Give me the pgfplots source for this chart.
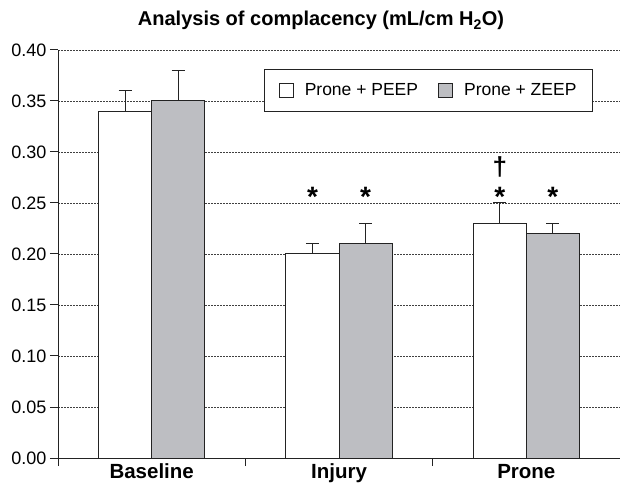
\documentclass[border=0pt]{standalone}
\usepackage{fontspec}
\setmainfont{Liberation Sans}
\usepackage{pgfplots}
\pgfplotsset{compat=1.18}
\usepackage{pgfplotstable}

\definecolor{bargray}{RGB}{189,190,194}
\definecolor{edge}{RGB}{35,35,35}

% mean and upper SD, per group
\pgfplotstableread{
x y e
0 0.34 0.02
1 0.20 0.01
2 0.23 0.02
}\peep
\pgfplotstableread{
x y e
0 0.35 0.03
1 0.21 0.02
2 0.22 0.01
}\zeep
% significance marks
\pgfplotstableread{
x y label
0.8585 0.247 *
1.1415 0.247 *
1.8585 0.247 *
2.1415 0.247 *
}\stars
\pgfplotstableread{
x y label
1.8585 0.277 †
}\dagmark

\begin{document}
\begin{tikzpicture}
\path[use as bounding box] (-58pt,-26pt) rectangle (562pt,458pt);
\begin{axis}[
  at={(0,0)}, anchor=south west,
  scale only axis, width=562pt, height=408pt,
  xmin=-0.5, xmax=2.5, ymin=0, ymax=0.4,
  axis x line=bottom, axis y line=left,
  axis line style={-, draw=edge, line width=1pt},
  clip=false,
  xtick={-0.5,0.5,1.5}, xticklabels={},
  extra x ticks={0,1,2},
  extra x tick labels={Baseline,Injury,Prone},
  extra x tick style={major tick length=0pt,
    tick label style={font=\bfseries\fontsize{20.5}{23}\selectfont,
      text height=15pt, text depth=4pt, yshift=-2pt}},
  ytick={0,0.05,0.1,0.15,0.2,0.25,0.3,0.35,0.4},
  yticklabel style={/pgf/number format/.cd, fixed, fixed zerofill, precision=2,
    assume math mode=true},
  tick label style={font=\fontsize{18}{21}\selectfont},
  tick align=outside, major tick length=8pt,
  tick style={draw=edge, line width=1pt},
  ymajorgrids,
  grid style={dash pattern=on 2pt off 1pt, line width=0.6pt, draw=black!75},
  title={Analysis of complacency (mL/cm H\textsubscript{2}O)},
  title style={font=\bfseries\fontsize{20}{24}\selectfont, at={(0.468,1)},
    anchor=base, yshift=18pt},
  legend style={at={(0.367,0.953)}, anchor=north west, legend columns=2,
    draw=edge, line width=1pt, fill=white,
    font=\fontsize{17.5}{20}\selectfont,
    inner xsep=14pt, inner ysep=12pt,
    /tikz/every odd column/.append style={column sep=9pt},
    /tikz/every even column/.append style={column sep=18pt}},
]
\addplot[ybar, bar width=0.283, bar shift=0pt, fill=white, draw=edge,
  line width=1pt, forget plot,
  error bars/.cd, y dir=plus, y explicit,
  error bar style={draw=edge, line width=1pt},
  error mark options={rotate=90, mark size=6.5pt, draw=edge, line width=1pt}]
  table[x expr=\thisrow{x}-0.1415, y=y, y error=e] {\peep};
\addplot[ybar, bar width=0.283, bar shift=0pt, fill=bargray, draw=edge,
  line width=1pt, forget plot,
  error bars/.cd, y dir=plus, y explicit,
  error bar style={draw=edge, line width=1pt},
  error mark options={rotate=90, mark size=6.5pt, draw=edge, line width=1pt}]
  table[x expr=\thisrow{x}+0.1415, y=y, y error=e] {\zeep};

\addplot[draw=none, forget plot, nodes near coords, point meta=explicit symbolic,
  nodes near coords style={anchor=base, inner sep=0pt,
    font=\bfseries\fontsize{28}{30}\selectfont}]
  table[x=x, y=y, meta=label] {\stars};
\addplot[draw=none, forget plot, nodes near coords, point meta=explicit symbolic,
  nodes near coords style={anchor=base, inner sep=0pt,
    font=\bfseries\fontsize{26}{30}\selectfont}]
  table[x=x, y=y, meta=label] {\dagmark};

\addlegendimage{legend image code/.code={\draw[fill=white, draw=edge, line width=1pt]
  (0pt,-7pt) rectangle (14pt,7pt);}}
\addlegendentry{Prone + PEEP}
\addlegendimage{legend image code/.code={\draw[fill=bargray, draw=edge, line width=1pt]
  (0pt,-7pt) rectangle (14pt,7pt);}}
\addlegendentry{Prone + ZEEP}
\end{axis}
\end{tikzpicture}
\end{document}
